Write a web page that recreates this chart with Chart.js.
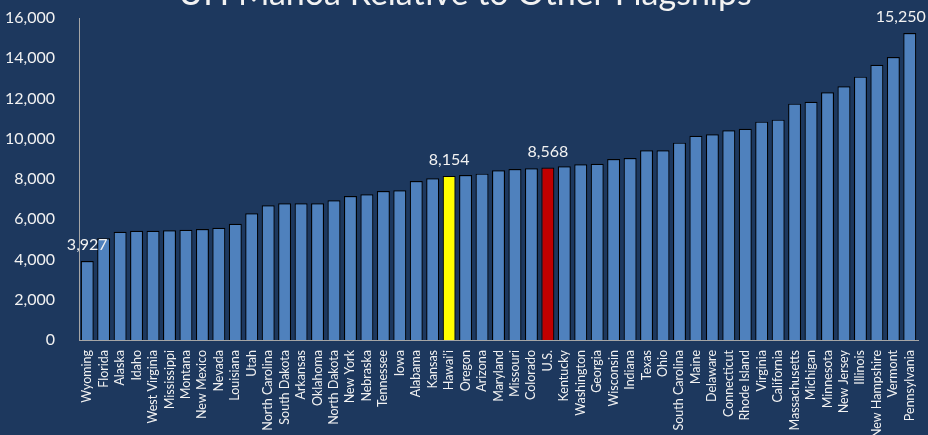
<!DOCTYPE html>
<html>
<head>
<meta charset="utf-8">
<script src="https://cdn.jsdelivr.net/npm/chart.js@4"></script>
<style>
  html, body { margin: 0; padding: 0; background: #1d385e; }
  #wrap { width: 928px; height: 435px; }
</style>
</head>
<body>
<div id="wrap"><canvas id="costChart"></canvas></div>
<script>
const titleText = "UH Mānoa Relative to Other Flagships";

const states = [
  "Wyoming", "Florida", "Alaska", "Idaho", "West Virginia", "Mississippi", "Montana",
  "New Mexico", "Nevada", "Louisiana", "Utah", "North Carolina", "South Dakota",
  "Arkansas", "Oklahoma", "North Dakota", "New York", "Nebraska", "Tennessee", "Iowa",
  "Alabama", "Kansas", "Hawai\u2018i", "Oregon", "Arizona", "Maryland", "Missouri",
  "Colorado", "U.S.", "Kentucky", "Washington", "Georgia", "Wisconsin", "Indiana",
  "Texas", "Ohio", "South Carolina", "Maine", "Delaware", "Connecticut", "Rhode Island",
  "Virginia", "California", "Massachusetts", "Michigan", "Minnesota", "New Jersey",
  "Illinois", "New Hampshire", "Vermont", "Pennsylvania"
];

const tuition = [
  3927, 5050, 5380, 5430, 5430, 5450, 5480,
  5515, 5580, 5780, 6295, 6690, 6790,
  6790, 6790, 6940, 7150, 7240, 7400, 7440,
  7900, 8035, 8154, 8200, 8265, 8430, 8500,
  8530, 8568, 8630, 8730, 8760, 8995, 9040,
  9425, 9425, 9805, 10150, 10220, 10420, 10500,
  10850, 10950, 11745, 11840, 12305, 12605,
  13085, 13680, 14060, 15250
];

// bars that get a value label, with a small x nudge where it would not fit
const labelled = ["Wyoming", "Hawai\u2018i", "U.S.", "Pennsylvania"];
const labelNudge = [0, 0, 0, -9];

const highlight = { "Hawai\u2018i": "#ffff00", "U.S.": "#c00000" };
const barColors = states.map(s => highlight[s] || "#4f81bd");

const textColor = "#f2f2f2";
const fontFamily = "Lato, 'Open Sans', sans-serif";

const overlay = {
  id: "overlay",
  afterDraw(chart) {
    const ctx = chart.ctx;
    const meta = chart.getDatasetMeta(0);
    ctx.save();
    ctx.fillStyle = textColor;
    ctx.font = "16px " + fontFamily;
    ctx.textAlign = "center";
    ctx.textBaseline = "middle";
    labelled.forEach((name, i) => {
      const idx = states.indexOf(name);
      const bar = meta.data[idx];
      ctx.fillText(tuition[idx].toLocaleString("en-US"), bar.x + labelNudge[i], bar.y - 16);
    });
    // title sits mostly above the canvas, as in the original slide
    ctx.font = "34px " + fontFamily;
    ctx.textBaseline = "alphabetic";
    ctx.fillText(titleText, 465, 5);
    ctx.restore();
  }
};

new Chart(document.getElementById("costChart"), {
  type: "bar",
  data: {
    labels: states,
    datasets: [{
      data: tuition,
      backgroundColor: barColors,
      borderColor: "#000000",
      borderWidth: 1.2,
      barPercentage: 0.79,
      categoryPercentage: 1.0
    }]
  },
  options: {
    responsive: true,
    maintainAspectRatio: false,
    animation: false,
    layout: { padding: { top: 18, right: 10, left: 0, bottom: 0 } },
    plugins: {
      legend: { display: false },
      tooltip: { enabled: false }
    },
    scales: {
      x: {
        grid: { display: false },
        border: { display: true, color: "#a6a6a6", width: 1 },
        ticks: {
          color: textColor,
          font: { family: fontFamily, size: 12.5 },
          minRotation: 90,
          maxRotation: 90,
          autoSkip: false,
          padding: 2
        },
        afterFit(axis) { axis.height = 95; }
      },
      y: {
        min: 0,
        max: 16000,
        grid: { display: false },
        border: { display: true, color: "#a6a6a6", width: 1 },
        ticks: {
          stepSize: 2000,
          color: textColor,
          font: { family: fontFamily, size: 16 },
          padding: 16,
          callback: v => v.toLocaleString("en-US")
        },
        afterFit(axis) {
          axis.width = 79;
          axis.paddingTop = 0;
          axis.paddingBottom = 0;
        }
      }
    }
  },
  plugins: [overlay]
});
</script>
</body>
</html>
